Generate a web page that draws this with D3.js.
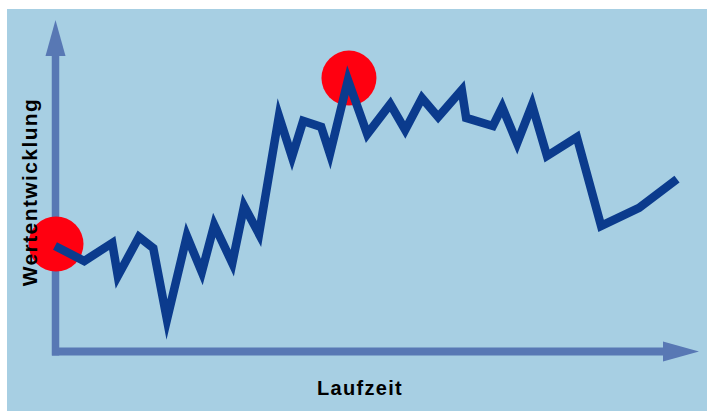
<!DOCTYPE html>
<html>
<head>
<meta charset="utf-8">
<script src="https://cdn.jsdelivr.net/npm/d3@7"></script>
<style>
  body { margin: 0; background: #fff; }
  text { font-family: "Liberation Sans", Arial, sans-serif; font-weight: bold; }
</style>
</head>
<body>
<svg width="707" height="411"></svg>
<script>
// Laufzeit (0..100) und Wertentwicklung (0..100)
var zeit = [0, 4.7, 9.2, 10.1, 13.5, 15.8, 18, 21.2, 23.6, 25.6, 28.5, 30.4, 32.8, 36, 38.1, 39.9,
            42.8, 44.2, 47.1, 50.2, 53.9, 56.3, 59, 61.6, 65.4, 66.1, 70.4, 71.9, 74.3, 76.7,
            79.1, 83.9, 87.8, 93.9, 100];
var wert = [35, 30, 36, 25, 38, 34.3, 10.5, 38.3, 26.3, 42, 29.3, 48.3, 39, 78.3, 64.7, 76.7,
            74.7, 65.7, 90.3, 72.3, 82.3, 73.7, 84.3, 78, 87, 77.7, 75, 81.3, 69.3, 82,
            65, 71.3, 41.7, 47.7, 57.3];
var markiert = [0, 18]; // Start und Hoechststand
var xLabel = "Laufzeit",
    yLabel = "Wertentwicklung";

var data = zeit.map(function(t, i) { return {t: t, v: wert[i]}; });

var svg = d3.select("svg"),
    width = +svg.attr("width"),
    height = +svg.attr("height");

var x = d3.scaleLinear().domain([0, 100]).range([55, 677]),
    y = d3.scaleLinear().domain([0, 100]).range([351, 51]);

var axisColor = "#5878b4";

svg.append("rect")
    .attr("x", 7)
    .attr("y", 9)
    .attr("width", width - 7)
    .attr("height", height - 9)
    .attr("fill", "#a7cfe3");

// Achsen mit Pfeilen
var x0 = x(0) + 0.5, y0 = y(0) + 0.5;

svg.append("line")
    .attr("x1", x0).attr("y1", y0 + 4)
    .attr("x2", x0).attr("y2", 56)
    .attr("stroke", axisColor)
    .attr("stroke-width", 7.5);

svg.append("path")
    .attr("d", "M" + x0 + ",20L" + (x0 - 10) + ",56L" + (x0 + 10) + ",56Z")
    .attr("fill", axisColor);

svg.append("line")
    .attr("x1", x0 - 3.5).attr("y1", y0)
    .attr("x2", 663).attr("y2", y0)
    .attr("stroke", axisColor)
    .attr("stroke-width", 8);

svg.append("path")
    .attr("d", "M699," + y0 + "L663," + (y0 - 10) + "L663," + (y0 + 10) + "Z")
    .attr("fill", axisColor);

// rote Markierungen
svg.selectAll(".punkt")
    .data(markiert.map(function(i) { return data[i]; }))
    .enter().append("circle")
    .attr("class", "punkt")
    .attr("cx", function(d) { return x(d.t) + 1; })
    .attr("cy", function(d) { return y(d.v) - 2; })
    .attr("r", 27.5)
    .attr("fill", "#ff0010");

var line = d3.line()
    .x(function(d) { return x(d.t); })
    .y(function(d) { return y(d.v); });

svg.append("path")
    .datum(data)
    .attr("d", line)
    .attr("fill", "none")
    .attr("stroke", "#0b3b8d")
    .attr("stroke-width", 8.5)
    .attr("stroke-linejoin", "miter")
    .attr("stroke-miterlimit", 10);

svg.append("text")
    .attr("x", 360)
    .attr("y", 395)
    .attr("text-anchor", "middle")
    .attr("font-size", 20)
    .attr("letter-spacing", 1.3)
    .attr("fill", "#000")
    .text(xLabel);

svg.append("text")
    .attr("transform", "translate(37,192) rotate(-90)")
    .attr("text-anchor", "middle")
    .attr("font-size", 21)
    .attr("letter-spacing", 1.4)
    .attr("fill", "#000")
    .text(yLabel);
</script>
</body>
</html>
